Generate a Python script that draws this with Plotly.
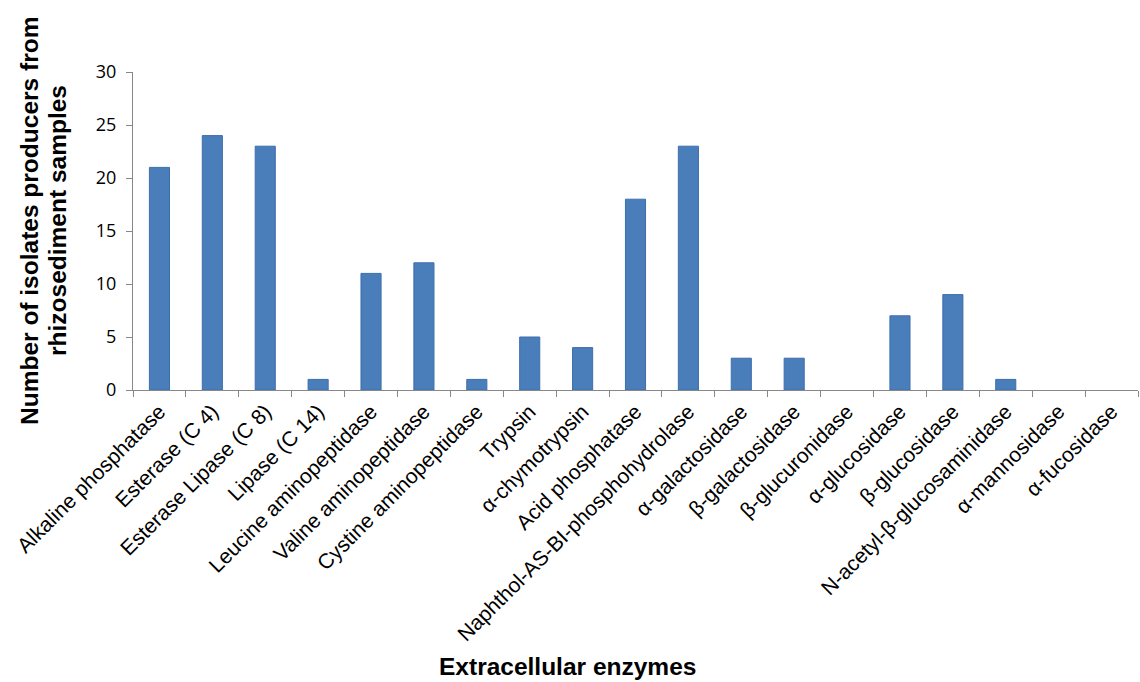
import plotly.graph_objects as go

categories = ["Alkaline phosphatase", "Esterase (C 4)", "Esterase Lipase (C 8)", "Lipase (C 14)",
              "Leucine aminopeptidase", "Valine aminopeptidase", "Cystine aminopeptidase", "Trypsin",
              "α-chymotrypsin", "Acid phosphatase", "Naphthol-AS-BI-phosphohydrolase",
              "α-galactosidase", "β-galactosidase", "β-glucuronidase", "α-glucosidase",
              "β-glucosidase", "N-acetyl-β-glucosaminidase", "α-mannosidase", "α-fucosidase"]
values = [21, 24, 23, 1, 11, 12, 1, 5, 4, 18, 23, 3, 3, 0, 7, 9, 1, 0, 0]
y_ticks = [0, 5, 10, 15, 20, 25, 30]

W, H = 1140, 682
L, R, T, B = 133, 2, 72, 292
pw, ph = W - L - R, H - T - B

def px_x(x):
    return (x - L) / pw

def px_y(y):
    return (H - B - y) / ph

fig = go.Figure(go.Bar(
    x=categories, y=values, width=0.38,
    marker=dict(color="#4a7ebb", line=dict(color="#3d6eab", width=[1 if v > 0 else 0 for v in values])),
))

title_font = dict(family="Liberation Sans, Arial", size=24.5, color="black")

fig.update_layout(
    width=W, height=H,
    margin=dict(l=L, r=R, t=T, b=B, autoexpand=False),
    paper_bgcolor="white", plot_bgcolor="white",
    showlegend=False,
    xaxis=dict(
        type="category", range=[-0.5, 18.5], tickson="boundaries",
        ticks="outside", ticklen=6, tickcolor="#888888",
        showline=True, linecolor="#888888", linewidth=1,
        tickangle=-45, tickfont=dict(family="Liberation Sans, Arial", size=21, color="black"),
        showgrid=False, automargin=False,
    ),
    yaxis=dict(
        range=[0, 30], tickvals=y_ticks,
        ticks="outside", ticklen=6, tickcolor="#888888",
        showline=True, linecolor="#888888", linewidth=1,
        tickfont=dict(family="Open Sans", size=18, color="black"),
        ticklabelstandoff=6,
        showgrid=False, zeroline=False, automargin=False,
    ),
    annotations=[
        dict(text="<b>Extracellular enzymes</b>", xref="paper", yref="paper",
             x=px_x(567), y=px_y(666), xanchor="center", yanchor="middle",
             showarrow=False, font=title_font),
        dict(text="<b>Number of isolates producers from</b>", xref="paper", yref="paper",
             x=px_x(29), y=px_y(221), xanchor="center", yanchor="middle", textangle=-90,
             showarrow=False, font=title_font),
        dict(text="<b>rhizosediment samples</b>", xref="paper", yref="paper",
             x=px_x(57), y=px_y(221), xanchor="center", yanchor="middle", textangle=-90,
             showarrow=False, font=title_font),
    ],
)

fig.write_html("out.html", config={"displayModeBar": False},
               post_script="document.body.style.margin='0';")
